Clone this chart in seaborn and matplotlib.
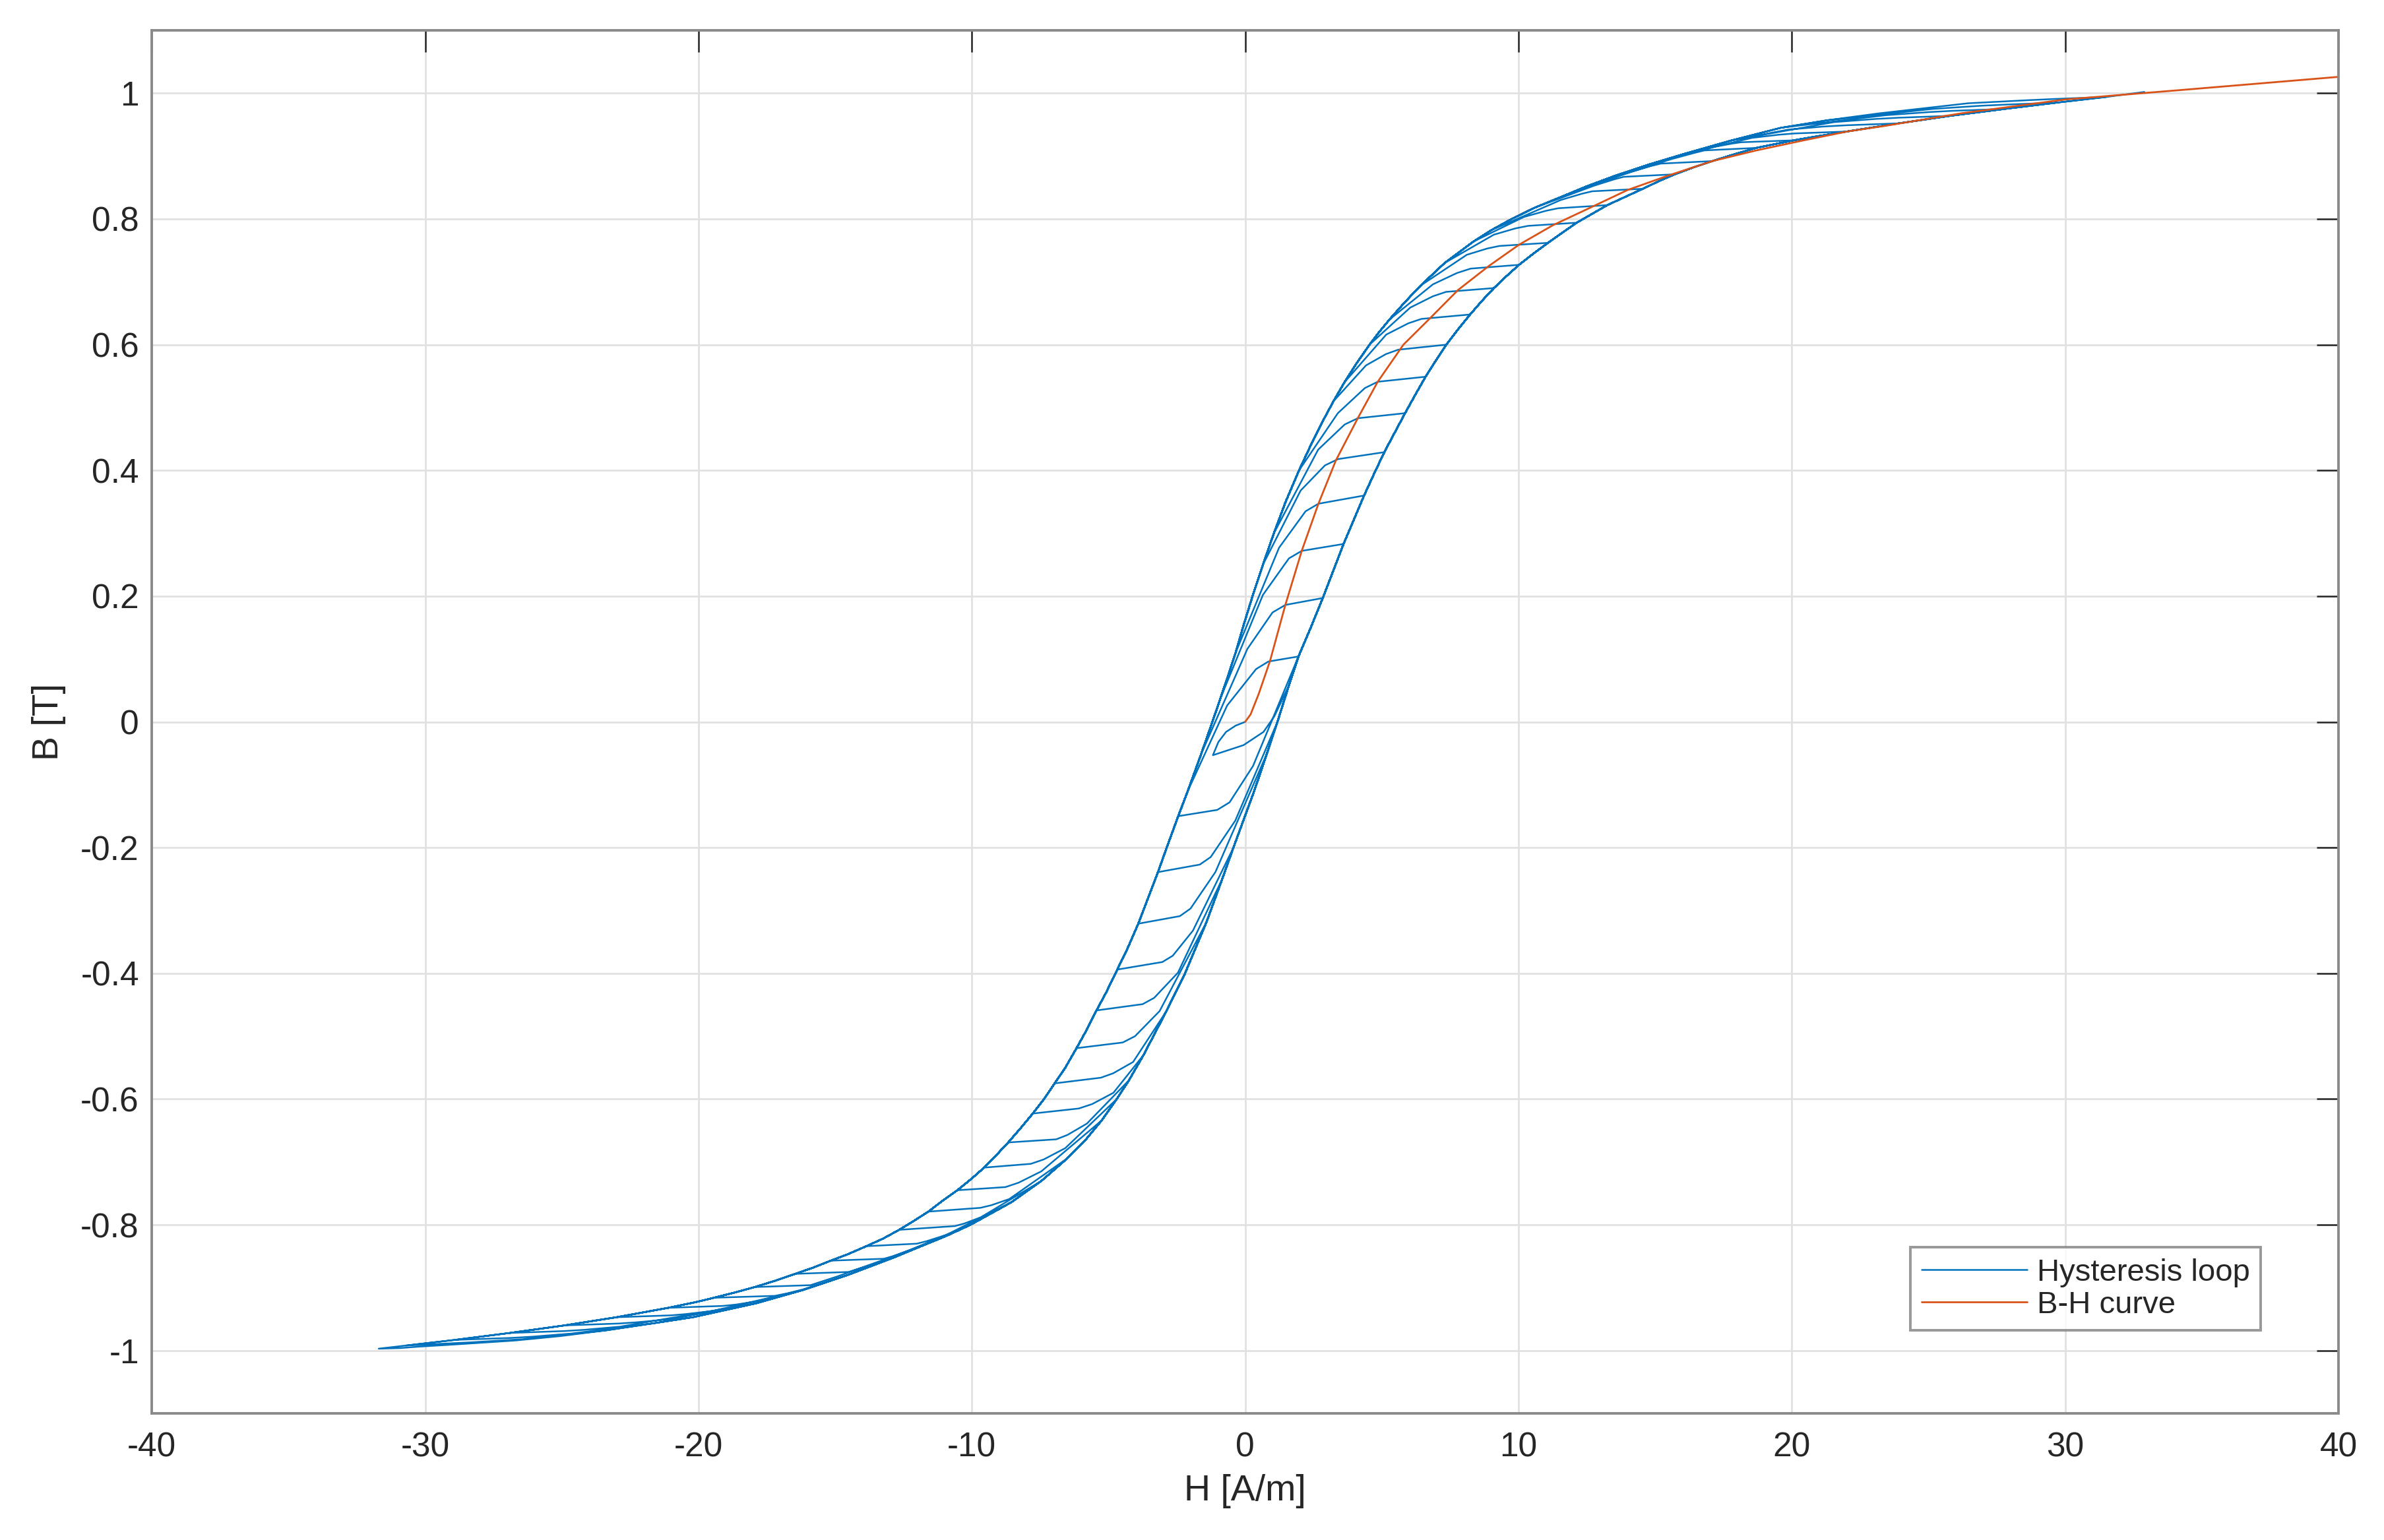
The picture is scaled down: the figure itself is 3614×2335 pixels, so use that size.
import pandas as pd
import matplotlib
matplotlib.use("Agg")
import matplotlib.pyplot as plt
import seaborn as sns

# start of the loop: from the origin to the first reversal
start_H = [0.0, -0.35, -0.70, -0.98]
start_B = [0.0, -0.006, -0.016, -0.032]

# reversal points (alternating negative / positive), last one is the end of the trace
tip_H = [-1.18, 1.95, -2.45, 2.84, -3.19, 3.60, -3.91, 4.35, -4.68, 5.09, -5.44, 5.85, -6.17, 6.60,
         -6.97, 7.36, -7.77, 8.23, -8.67, 9.10, -9.55, 10.02, -10.53, 11.08, -11.59, 12.13, -12.66,
         13.25, -13.86, 14.55, -15.16, 15.72, -16.46, 17.09, -17.94, 18.70, -19.43, 20.06, -21.1,
         22.0, -23.0, 23.9, -24.9, 25.8, -26.9, 27.8, -28.9, 29.7, -30.7, 31.5, -31.7, 32.9]
tip_B = [-0.053, 0.104, -0.150, 0.197, -0.239, 0.283, -0.321, 0.360, -0.394, 0.429, -0.459, 0.491,
         -0.519, 0.549, -0.575, 0.600, -0.623, 0.648, -0.669, 0.690, -0.709, 0.727, -0.745, 0.762,
         -0.779, 0.794, -0.808, 0.822, -0.834, 0.848, -0.857, 0.871, -0.878, 0.892, -0.899, 0.913,
         -0.916, 0.925, -0.932, 0.939, -0.947, 0.952, -0.960, 0.964, -0.972, 0.975, -0.983, 0.985,
         -0.992, 0.994, -0.997, 1.002]

# end of the straight part after each reversal
flat_H = [-0.06, 0.85, -1.02, 1.47, -1.66, 2.07, -2.39, 2.68, -3.03, 3.40, -3.75, 4.12, -4.48, 4.85,
          -5.28, 5.60, -6.09, 6.45, -6.91, 7.35, -7.84, 8.25, -8.77, 9.30, -9.69, 10.35, -10.62,
          11.45, -12.01, 12.70, -13.22, 13.85, -14.51, 15.20, -15.90, 16.80, -17.20, 18.15, -19.1,
          20.1, -21.0, 22.0, -22.9, 23.9, -24.9, 25.9, -26.9, 27.9, -29.3, 29.7, -30.9]
flat_B = [-0.037, 0.096, -0.140, 0.186, -0.227, 0.272, -0.309, 0.347, -0.382, 0.418, -0.449, 0.483,
          -0.510, 0.541, -0.566, 0.592, -0.615, 0.641, -0.664, 0.684, -0.703, 0.721, -0.740, 0.757,
          -0.773, 0.789, -0.802, 0.817, -0.830, 0.844, -0.854, 0.867, -0.875, 0.888, -0.896, 0.909,
          -0.913, 0.922, -0.929, 0.936, -0.944, 0.949, -0.957, 0.961, -0.969, 0.972, -0.980, 0.982,
          -0.989, 0.991, -0.996]

# two points on the bend that rejoins the outer branch
knee1_H = [0.67, 0.40, -0.57, 1.00, -1.26, 1.60, -2.00, 2.21, -2.65, 2.92, -3.33, 3.64, -4.03, 4.38,
           -4.83, 5.15, -5.60, 5.97, -6.50, 6.87, -7.37, 7.75, -8.29, 8.86, -9.30, 9.89, -10.28,
           11.01, -11.65, 12.31, -12.89, 13.50, -14.22, 14.83, -15.62, 16.43, -16.75, 17.83, -18.65,
           19.53, -20.46, 21.16, -22.24, 23.05, -24.17, 25.03, -26.09, 26.90, -28.35, 28.69, -30.3]
knee1_B = [-0.016, 0.084, -0.128, 0.174, -0.215, 0.260, -0.297, 0.335, -0.372, 0.408, -0.439, 0.473,
           -0.500, 0.531, -0.559, 0.585, -0.608, 0.634, -0.657, 0.677, -0.696, 0.714, -0.733, 0.753,
           -0.769, 0.785, -0.798, 0.813, -0.826, 0.840, -0.850, 0.863, -0.871, 0.884, -0.892, 0.905,
           -0.909, 0.920, -0.927, 0.934, -0.942, 0.947, -0.955, 0.959, -0.967, 0.970, -0.978, 0.980,
           -0.987, 0.989, -0.994]
knee2_H = [1.07, -0.66, 0.29, 0.08, -0.36, 0.65, -1.09, 1.24, -1.91, 2.03, -2.46, 2.67, -3.13, 3.39,
           -4.10, 4.42, -4.82, 5.16, -5.79, 6.04, -6.58, 6.87, -7.46, 8.11, -8.63, 9.10, -9.67,
           10.19, -10.93, 11.54, -12.26, 12.77, -13.50, 14.03, -14.91, 15.58, -16.20, 17.21, -17.90,
           18.55, -19.48, 19.86, -21.00, 21.54, -22.87, 23.44, -24.66, 25.16, -26.45, 26.45, -28.8]
knee2_B = [0.009, 0.026, -0.070, 0.116, -0.157, 0.202, -0.239, 0.277, -0.332, 0.368, -0.399, 0.433,
           -0.460, 0.491, -0.541, 0.567, -0.590, 0.616, -0.639, 0.659, -0.678, 0.696, -0.715, 0.743,
           -0.759, 0.775, -0.788, 0.803, -0.816, 0.830, -0.840, 0.853, -0.861, 0.874, -0.882, 0.895,
           -0.903, 0.915, -0.922, 0.929, -0.937, 0.942, -0.950, 0.954, -0.962, 0.965, -0.973, 0.975,
           -0.982, 0.984, -0.990]
# level where each bend has joined the outer branch
merge_B = [0.050, -0.104, 0.060, -0.014, -0.027, 0.072, -0.109, 0.147, -0.242, 0.278, -0.309, 0.343,
           -0.370, 0.401, -0.486, 0.512, -0.535, 0.561, -0.583, 0.604, -0.623, 0.641, -0.660, 0.712,
           -0.728, 0.744, -0.757, 0.772, -0.785, 0.799, -0.810, 0.822, -0.831, 0.843, -0.852, 0.864,
           -0.890, 0.900, -0.905, 0.914, -0.920, 0.927, -0.935, 0.939, -0.947, 0.950, -0.958, 0.960,
           -0.970, 0.969, -0.985]

# outer descending branch (upper left)
desc_H = [32.9, 31.5, 30.0, 28.3, 26.3, 24.7, 23.2, 21.3, 19.6, 17.8, 16.1, 14.8, 13.55, 12.5, 11.5,
          10.6, 9.75, 9.0, 8.35, 7.3, 6.42, 5.83, 5.28, 4.90, 4.55, 4.07, 3.63, 3.23, 2.86, 2.40,
          1.97, 1.48, 1.05, 0.65, 0.27, -0.05, -0.35, -0.62, -0.90, -1.20, -1.60, -2.10, -2.45,
          -2.87, -3.19, -3.55, -3.91, -4.30, -4.68, -5.08, -5.44, -5.80, -6.17, -6.58, -6.97, -7.36,
          -7.77, -8.23, -8.67, -9.10, -9.55, -10.02, -10.53, -11.08, -11.59, -12.13, -12.66, -13.25,
          -13.86, -14.55, -15.16, -15.8, -16.46, -17.2, -17.94, -18.7, -19.43, -20.1, -21.1, -23.0,
          -24.9, -26.9, -28.9, -30.7, -31.7]
desc_B = [1.002, 0.998, 0.994, 0.990, 0.984, 0.976, 0.968, 0.957, 0.945, 0.925, 0.904, 0.887, 0.869,
          0.852, 0.834, 0.818, 0.800, 0.782, 0.764, 0.730, 0.694, 0.667, 0.640, 0.620, 0.600, 0.570,
          0.540, 0.510, 0.480, 0.440, 0.400, 0.350, 0.300, 0.250, 0.200, 0.155, 0.110, 0.074, 0.038,
          0.000, -0.050, -0.110, -0.150, -0.200, -0.239, -0.280, -0.321, -0.360, -0.394, -0.430,
          -0.459, -0.490, -0.519, -0.550, -0.575, -0.600, -0.623, -0.647, -0.669, -0.689, -0.709,
          -0.727, -0.745, -0.762, -0.779, -0.794, -0.808, -0.822, -0.834, -0.847, -0.857, -0.868,
          -0.878, -0.889, -0.899, -0.908, -0.916, -0.923, -0.932, -0.947, -0.960, -0.972, -0.983,
          -0.992, -0.997]

# outer ascending branch (lower right)
asc_H = [-31.7, -30.3, -28.8, -26.7, -25.05, -23.4, -21.7, -20.2, -17.9, -16.2, -14.55, -12.85,
         -11.85, -10.95, -10.05, -8.55, -7.45, -6.5, -5.88, -5.25, -4.7, -4.25, -3.72, -2.88, -2.2,
         -1.42, -0.84, -0.43, -0.05, 0.33, 0.80, 1.18, 1.60, 1.95, 2.40, 2.84, 3.22, 3.60, 3.96, 4.35,
         4.72, 5.09, 5.47, 5.85, 6.22, 6.60, 6.98, 7.36, 7.80, 8.23, 8.67, 9.10, 9.56, 10.02, 10.55,
         11.08, 11.6, 12.13, 12.69, 13.25, 13.9, 14.55, 15.13, 15.72, 16.4, 17.09, 17.9, 18.70,
         20.06, 21.0, 22.0, 23.9, 25.8, 27.8, 29.7, 31.5, 32.9]
asc_B = [-0.997, -0.994, -0.990, -0.984, -0.977, -0.968, -0.957, -0.947, -0.925, -0.904, -0.880,
         -0.852, -0.834, -0.818, -0.800, -0.764, -0.730, -0.694, -0.667, -0.634, -0.600, -0.570,
         -0.530, -0.460, -0.400, -0.319, -0.250, -0.200, -0.155, -0.110, -0.050, 0.000, 0.058, 0.104,
         0.150, 0.197, 0.240, 0.283, 0.320, 0.360, 0.395, 0.429, 0.460, 0.491, 0.520, 0.549, 0.575,
         0.600, 0.625, 0.648, 0.670, 0.690, 0.709, 0.727, 0.745, 0.762, 0.778, 0.794, 0.808, 0.822,
         0.835, 0.848, 0.860, 0.871, 0.882, 0.892, 0.903, 0.913, 0.925, 0.932, 0.939, 0.952, 0.964,
         0.975, 0.985, 0.994, 1.002]

# B-H curve
bh_H = [0.0, 0.2, 0.5, 0.91, 1.47, 2.07, 2.68, 3.32, 4.12, 4.85, 5.79, 6.74, 7.79, 8.91, 10.02,
        11.26, 12.63, 13.99, 15.48, 17.09, 18.7, 20.43, 22.02, 23.4, 26.2, 30.0, 34.5, 40.0]
bh_B = [0.0, 0.012, 0.045, 0.097, 0.186, 0.272, 0.347, 0.416, 0.483, 0.541, 0.600, 0.641, 0.687,
        0.725, 0.759, 0.790, 0.818, 0.846, 0.869, 0.892, 0.909, 0.925, 0.939, 0.948, 0.968, 0.990,
        1.006, 1.026]

# assemble the hysteresis trace in time order
path_H = list(start_H)
path_B = list(start_B)
for i in range(len(flat_H)):
    path_H += [tip_H[i], flat_H[i], knee1_H[i], knee2_H[i]]
    path_B += [tip_B[i], flat_B[i], knee1_B[i], knee2_B[i]]
    nxt = tip_B[i + 1]
    if tip_B[i] > 0:
        for h, b in zip(desc_H, desc_B):
            if nxt < b < merge_B[i]:
                path_H.append(h)
                path_B.append(b)
    else:
        for h, b in zip(asc_H, asc_B):
            if merge_B[i] < b < nxt:
                path_H.append(h)
                path_B.append(b)
path_H.append(tip_H[-1])
path_B.append(tip_B[-1])

loop = pd.DataFrame({"H": path_H, "B": path_B})
curve = pd.DataFrame({"H": bh_H, "B": bh_B})

sns.set_theme(style="white")
plt.rcParams['font.family'] = ['Liberation Sans', 'DejaVu Sans']
plt.rcParams['axes.unicode_minus'] = False

fig = plt.figure(figsize=(18.07, 11.675), dpi=200)
ax = fig.add_axes([0.0637, 0.0822, 0.9172, 0.8981])

sns.lineplot(data=loop, x="H", y="B", sort=False, estimator=None, color="#0072BD",
             linewidth=0.9, label="Hysteresis loop", ax=ax)
sns.lineplot(data=curve, x="H", y="B", sort=False, estimator=None, color="#D95319",
             linewidth=1.0, label="B-H curve", ax=ax)

ax.set_xlim(-40, 40)
ax.set_ylim(-1.1, 1.1)
ax.set_xticks(range(-40, 41, 10))
yt = [-1, -0.8, -0.6, -0.4, -0.2, 0, 0.2, 0.4, 0.6, 0.8, 1]
ax.set_yticks(yt)
ax.set_yticklabels(['-1', '-0.8', '-0.6', '-0.4', '-0.2', '0', '0.2', '0.4', '0.6', '0.8', '1'])

ax.grid(True, color='#e1e1e1', linewidth=1.0)
ax.set_axisbelow(True)
ax.tick_params(direction='in', length=12, width=0.9, color='#262626', top=True, right=True,
               labelsize=18.5, labelcolor='#262626')
ax.tick_params(axis='x', pad=10)
ax.tick_params(axis='y', pad=7)
for s in ax.spines.values():
    s.set_color('#8a8a8a')
    s.set_linewidth(1.4)

ax.set_xlabel('H [A/m]', fontsize=20, color='#262626')
ax.set_ylabel('B [T]', fontsize=20, color='#262626')
ax.xaxis.label.set_va('center')
ax.yaxis.label.set_va('center')
ax.xaxis.set_label_coords(0.5, -0.0563)
ax.yaxis.set_label_coords(-0.0471, 0.5)

leg = ax.legend(loc='lower right', bbox_to_anchor=(0.9644, 0.060), borderaxespad=0, fontsize=17,
                frameon=True, fancybox=False, edgecolor='#7f7f7f', handlelength=3.4,
                handletextpad=0.3, borderpad=0.35, labelspacing=0.1)
leg.get_frame().set_linewidth(1.4)
for t in leg.get_texts():
    t.set_color('#262626')

fig.savefig("out.png", dpi=200, facecolor='white')
